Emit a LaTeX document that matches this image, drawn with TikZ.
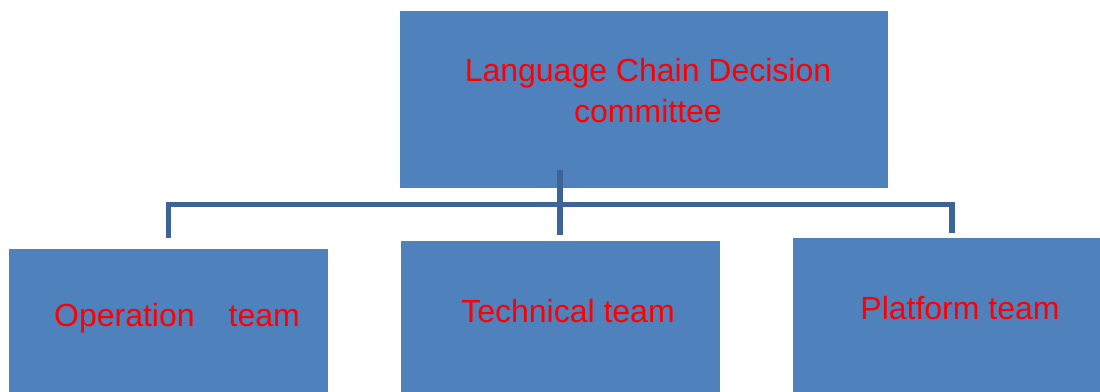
\documentclass[tikz,border=0pt]{standalone}
\usepackage{fontspec}
\setmainfont{Liberation Sans}
\usetikzlibrary{positioning, calc}
\definecolor{boxblue}{HTML}{4F81BD}
\definecolor{linkblue}{HTML}{3C6496}

\begin{document}
\begin{tikzpicture}[x=0.75pt, y=-0.75pt,
        box/.style={rectangle, fill=boxblue, draw=none, inner sep=0pt, minimum width=239.25pt, minimum height=150pt},
        lbl/.style={text=red, inner sep=0pt, align=center, font=\fontsize{24}{31}\selectfont},
        conn/.style={draw=linkblue, line width=4pt}]
        \useasboundingbox (0,0) rectangle (1100,392);

        % Nodes
        \node[box, minimum width=366pt, minimum height=132.75pt] (Committee) at (644,99.5) {};
        \node[box] (Ops) at (168.5,349) {};
        \node[box] (Tech) at (560,341) {};
        \node[box] (Plat) at (952,338) {};

        % Texts
        \node[lbl, anchor=base] (CommitteeText) at ($(Committee.north)+(4,112)$) {Language Chain Decision\\committee};
        \node[lbl, anchor=base] (OpsText) at ($(Ops.north)+(8.5,78)$) {Operation\hspace{25.5pt}team};
        \node[lbl, anchor=base] (TechText) at ($(Tech.north)+(8,82)$) {Technical team};
        \node[lbl, anchor=base] (PlatText) at ($(Plat.north)+(8,82)$) {Platform team};

        % Connections
        \draw[conn] ($(Committee.south -| Tech.north)+(0,-18)$) -- ($(Tech.north)+(0,-6)$);
        \draw[conn] ($(Ops.north)+(0,-11)$) |- ($(Plat.north)+(0,-33)$) -- ($(Plat.north)+(0,-5)$);
\end{tikzpicture}
\end{document}
